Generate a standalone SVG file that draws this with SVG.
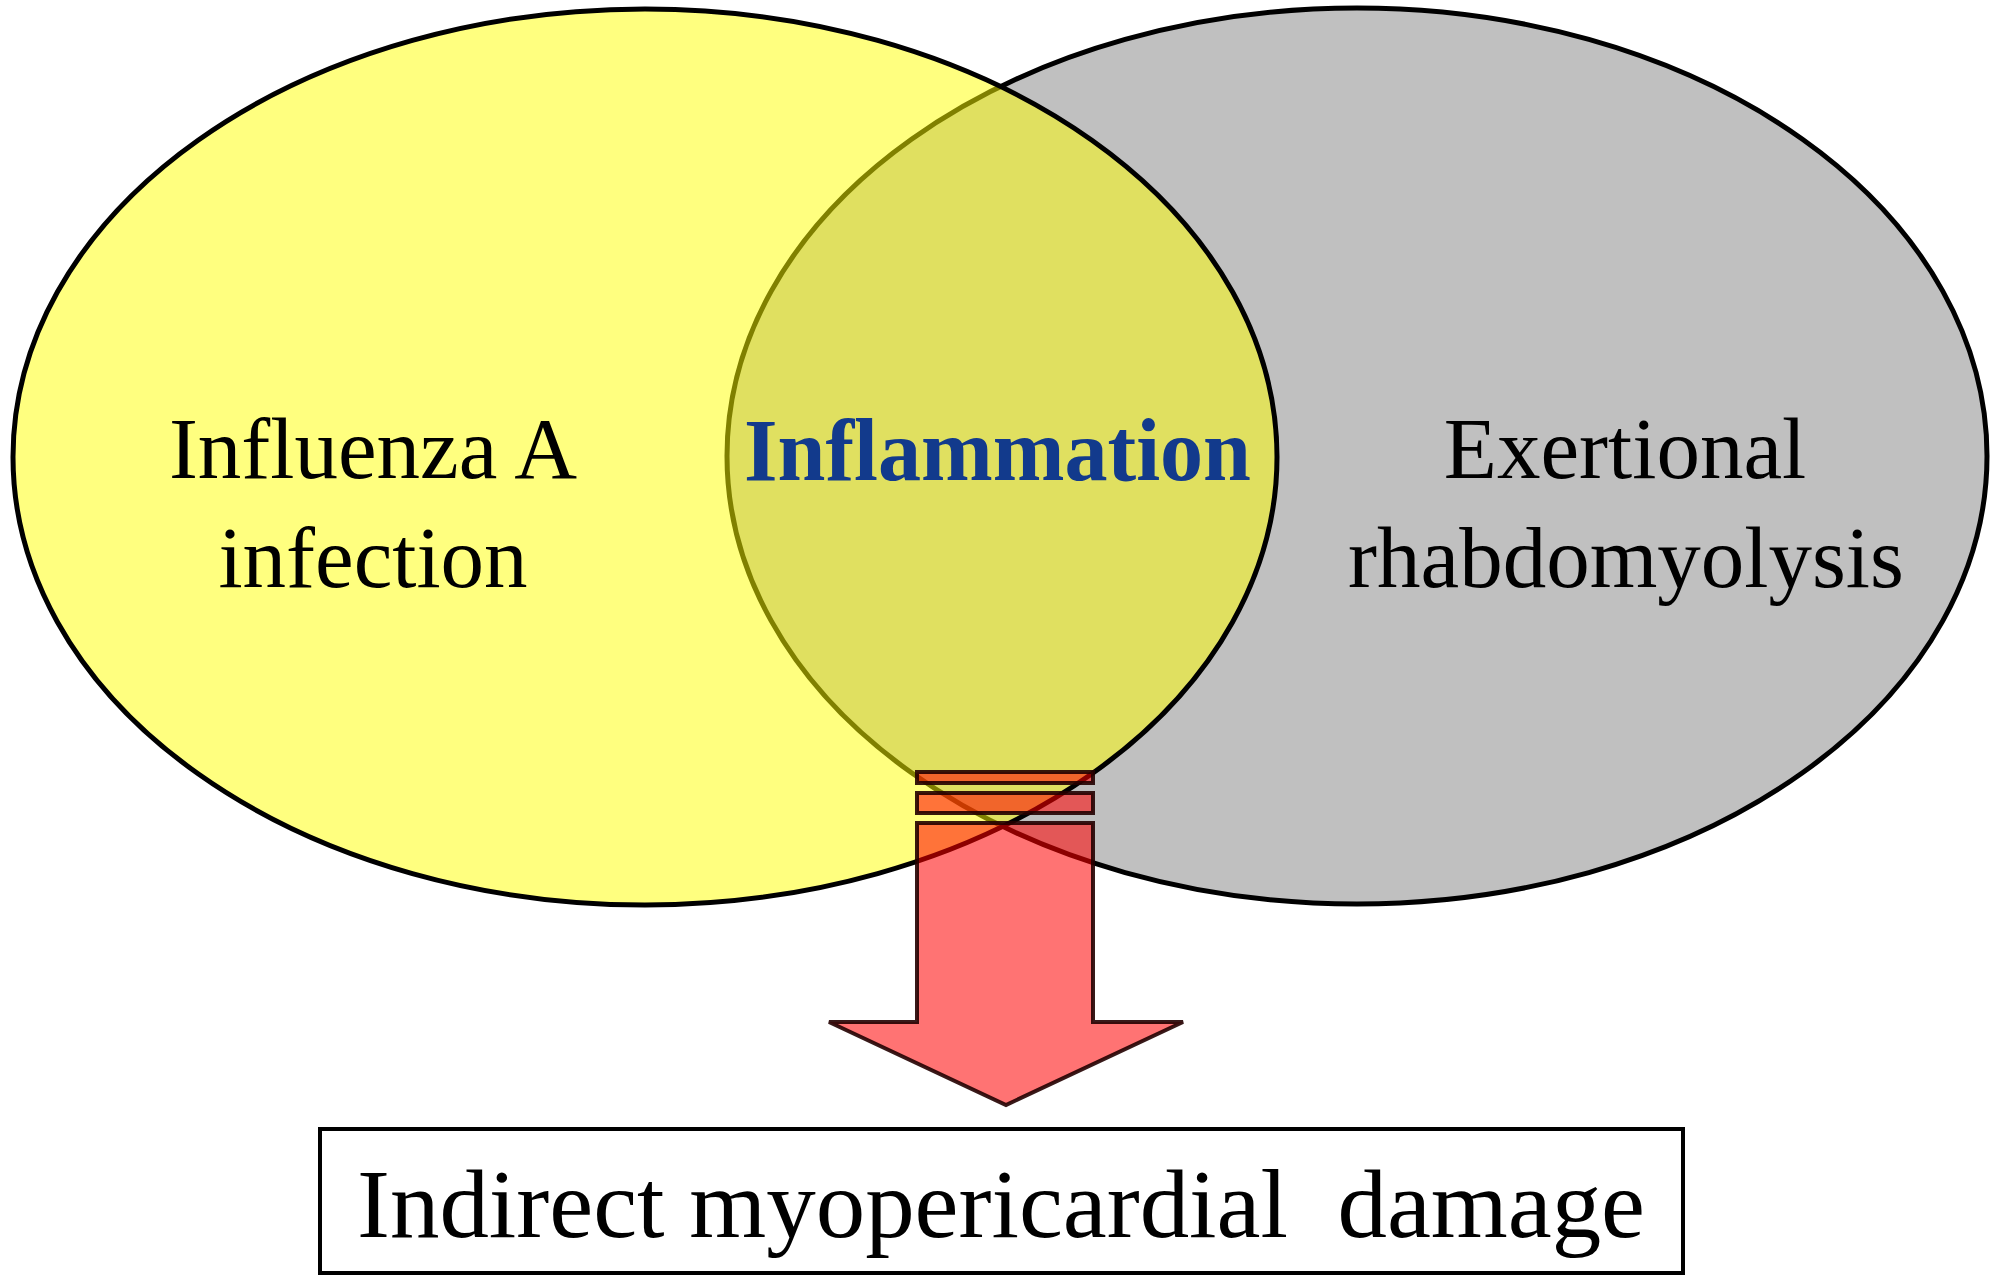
<svg xmlns="http://www.w3.org/2000/svg" width="2000" height="1284" viewBox="0 0 2000 1284">
<style>
.lbl{font-family:"Liberation Serif","Times New Roman",serif;font-size:87px;fill:#000;text-anchor:middle}
.mid{font-family:"Liberation Serif","Times New Roman",serif;font-size:89px;font-weight:bold;fill:#123a8c}
.ell{stroke:#000;stroke-width:5}
.arr{fill:#ff0000;fill-opacity:0.55;stroke:#200;stroke-opacity:0.9;stroke-width:4}
</style>
<rect width="2000" height="1284" fill="#fff"/>
<g id="exertional">
<ellipse class="ell" cx="1357" cy="456" rx="630" ry="448" fill="#c0c0c0"/>
</g>
<g id="influenza">
<ellipse class="ell" cx="645" cy="457" rx="632" ry="448" fill="#ffff00" fill-opacity="0.5"/>
</g>
<g id="labels">
<text class="lbl" x="373" y="478">Influenza A</text>
<text class="lbl" x="373" y="587">infection</text>
<text class="mid" x="744" y="480" textLength="507" lengthAdjust="spacingAndGlyphs">Inflammation</text>
<text class="lbl" x="1625" y="478">Exertional</text>
<text class="lbl" x="1626" y="587">rhabdomyolysis</text>
</g>
<g id="connectors">
<rect class="arr" x="917" y="772" width="176" height="11"/>
<rect class="arr" x="917" y="793" width="176" height="20"/>
<polygon class="arr" points="917,823 1093,823 1093,1022 1183,1022 1006,1105 829,1022 917,1022"/>
</g>
<g id="damage">
<rect x="320" y="1129" width="1363" height="144" fill="#fff" stroke="#000" stroke-width="4"/>
<text x="357" y="1237" xml:space="preserve" font-family="Liberation Serif, Times New Roman, serif" font-size="98" textLength="1288" lengthAdjust="spacingAndGlyphs">Indirect myopericardial  damage</text>
</g>
</svg>
